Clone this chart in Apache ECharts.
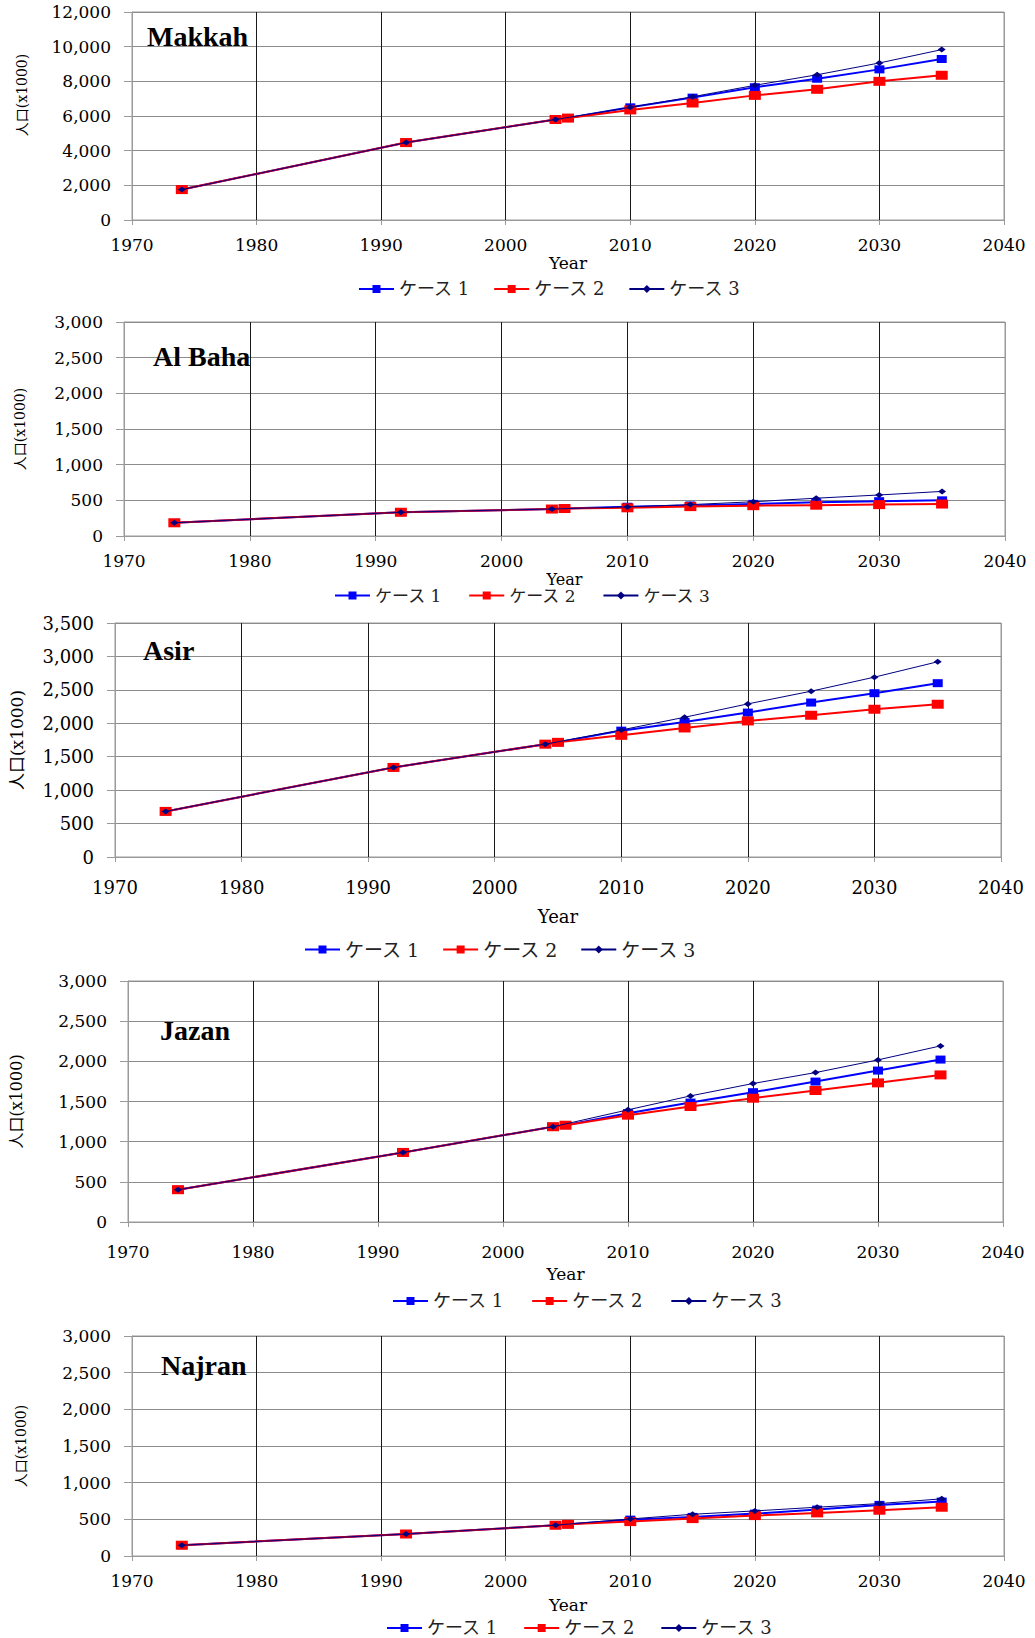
<!DOCTYPE html>
<html>
<head>
<meta charset="utf-8">
<script src="https://cdn.jsdelivr.net/npm/echarts@6/dist/echarts.min.js"></script>
<style>
html,body{margin:0;padding:0;background:#fff;}
#chart{width:1035px;height:1638px;}
</style>
</head>
<body>
<div id="chart"></div>
<script>
// ---------------- DATA ----------------
const regionNames = ['Makkah', 'Al Baha', 'Asir', 'Jazan', 'Najran'];
const seriesNames = ['ケース 1', 'ケース 2', 'ケース 3'];
const xTicks = [1970, 1980, 1990, 2000, 2010, 2020, 2030, 2040];

const yearsCase12 = [1974, 1992, 2004, 2005, 2010, 2015, 2020, 2025, 2030, 2035];
const yearsCase3  = [1974, 1992, 2004, 2010, 2015, 2020, 2025, 2030, 2035];

const makkahCase1 = [1754, 4467, 5798, 5880, 6500, 7060, 7660, 8150, 8690, 9290];
const makkahCase2 = [1754, 4467, 5798, 5880, 6350, 6750, 7190, 7540, 8000, 8350];
const makkahCase3 = [1754, 4467, 5798, 6500, 7110, 7770, 8380, 9060, 9830];

const alBahaCase1 = [185, 333, 378, 385, 410, 428, 450, 472, 488, 500];
const alBahaCase2 = [185, 333, 378, 385, 395, 412, 425, 432, 440, 448];
const alBahaCase3 = [185, 333, 378, 408, 440, 480, 530, 575, 625];

const asirCase1 = [682, 1340, 1688, 1715, 1890, 2020, 2160, 2310, 2450, 2600];
const asirCase2 = [682, 1340, 1688, 1715, 1820, 1930, 2035, 2120, 2210, 2285];
const asirCase3 = [682, 1340, 1688, 1900, 2090, 2290, 2480, 2690, 2920];

const jazanCase1 = [402, 866, 1186, 1205, 1355, 1487, 1616, 1748, 1885, 2022];
const jazanCase2 = [402, 866, 1186, 1205, 1330, 1438, 1541, 1637, 1732, 1831];
const jazanCase3 = [402, 866, 1186, 1396, 1570, 1724, 1860, 2018, 2192];

const najranCase1 = [147, 300, 420, 432, 496, 533, 578, 633, 697, 742];
const najranCase2 = [147, 300, 420, 432, 469, 510, 551, 588, 624, 665];
const najranCase3 = [147, 300, 420, 505, 569, 615, 665, 715, 779];

const yMaxValues = [12000, 3000, 3500, 3000, 3000];
const yIntervals = [2000, 500, 500, 500, 500];

const yAxisName = '人口(x1000)';
const xAxisName = 'Year';

// ---------------- LAYOUT (positions / styles) ----------------
const layouts = [
  {gl:132, gr:1004, gt:12,  gb:220,  fs:17, yNameFs:14, yNameGap:103, yNameShift:21, xNameFs:17, xNameGap:34, xLabMargin:16, lgLeft:358, lgY:290,  lgFs:18, lgGap:23, tLeft:147, tTop:22},
  {gl:124, gr:1005, gt:322, gb:536,  fs:17, yNameFs:14, yNameGap:97,  yNameShift:0,  xNameFs:16, xNameGap:35, xLabMargin:16, lgLeft:334, lgY:597,  lgFs:17, lgGap:26, tLeft:153, tTop:342},
  {gl:115, gr:1001, gt:623, gb:857,  fs:18, yNameFs:17, yNameGap:90,  yNameShift:0,  xNameFs:18, xNameGap:50, xLabMargin:21, lgLeft:304, lgY:950,  lgFs:19, lgGap:22, tLeft:143, tTop:636},
  {gl:119, gr:1003, gt:981, gb:1222, fs:17, yNameFs:16, yNameGap:104, yNameShift:0,  xNameFs:17, xNameGap:43, xLabMargin:21, lgLeft:392, lgY:1302, lgFs:18, lgGap:27, tLeft:160, tTop:1016},
  {gl:132, gr:1004, gt:1336,gb:1556, fs:17, yNameFs:14, yNameGap:104, yNameShift:0,  xNameFs:17, xNameGap:40, xLabMargin:16, lgLeft:386, lgY:1629, lgFs:18, lgGap:25, tLeft:161, tTop:1351}
];

const regionData = [
  [makkahCase1, makkahCase2, makkahCase3],
  [alBahaCase1, alBahaCase2, alBahaCase3],
  [asirCase1, asirCase2, asirCase3],
  [jazanCase1, jazanCase2, jazanCase3],
  [najranCase1, najranCase2, najranCase3]
];

const seriesStyles = [
  {color:'#0000ff', width:2, symbol:'rect', size:[10, 8]},
  {color:'#ff0000', width:2, symbol:'rect', size:[12, 9]},
  {color:'#000080', width:1, symbol:'diamond', size:[8, 6]}
];

const serif = "'DejaVu Serif', 'Noto Sans CJK JP', serif";
const vColors = xTicks.map((t, i) => (i === 0 || i === xTicks.length - 1) ? '#9a9a9a' : '#1a1a1a');

const grid = [], xAxis = [], yAxis = [], series = [], legend = [], title = [];

layouts.forEach((L, i) => {
  grid.push({left:L.gl, top:L.gt, width:L.gr - L.gl, height:L.gb - L.gt,
    show:true, borderColor:'#9a9a9a', borderWidth:1, backgroundColor:'#fff', containLabel:false});
  xAxis.push({
    type:'value', gridIndex:i, min:xTicks[0], max:xTicks[xTicks.length-1], interval:10,
    name:xAxisName, nameLocation:'middle', nameGap:L.xNameGap,
    nameTextStyle:{fontFamily:serif, fontSize:L.xNameFs, color:'#000'},
    axisLine:{show:true, onZero:false, lineStyle:{color:'#9a9a9a', width:1}},
    axisTick:{show:true, inside:false, length:5, lineStyle:{color:'#9a9a9a'}},
    axisLabel:{fontFamily:serif, fontSize:L.fs, color:'#000', margin:L.xLabMargin, formatter:v => String(v)},
    splitLine:{show:true, lineStyle:{color:vColors, width:1}}
  });
  yAxis.push({
    type:'value', gridIndex:i, min:0, max:yMaxValues[i], interval:yIntervals[i],
    name:yAxisName, nameLocation:'middle', nameRotate:90, nameGap:L.yNameGap,
    nameTextStyle:{fontFamily:serif, fontSize:L.yNameFs, color:'#000',
      padding: L.yNameShift ? [0,0,0,2*L.yNameShift] : 0},
    axisLine:{show:true, lineStyle:{color:'#9a9a9a', width:1}},
    axisTick:{show:true, inside:false, length:8, lineStyle:{color:'#9a9a9a'}},
    axisLabel:{fontFamily:serif, fontSize:L.fs, color:'#000', margin:21,
      formatter:v => v.toLocaleString('en-US')},
    splitLine:{show:true, lineStyle:{color:'#8c8c8c', width:1}}
  });
  title.push({text:regionNames[i], left:L.tLeft, top:L.tTop, padding:0,
    textStyle:{fontFamily:"'Liberation Serif', 'Times New Roman', serif", fontWeight:'bold', fontSize:28, color:'#000'}});
  legend.push({data:seriesNames, left:L.lgLeft, top:L.lgY - 10, padding:0, itemWidth:35, itemHeight:10,
    itemGap:L.lgGap, textStyle:{fontFamily:serif, fontSize:L.lgFs, color:'#222'}});
  regionData[i].forEach((vals, k) => {
    const yrs = k === 2 ? yearsCase3 : yearsCase12;
    const st = seriesStyles[k];
    series.push({
      name:seriesNames[k], type:'line', xAxisIndex:i, yAxisIndex:i,
      data:yrs.map((y, j) => [y, vals[j]]),
      symbol:st.symbol, symbolSize:st.size, showAllSymbol:true,
      lineStyle:{color:st.color, width:st.width},
      itemStyle:{color:st.color},
      emphasis:{disabled:true}, z:2 + k
    });
  });
});

const chart = echarts.init(document.getElementById('chart'), null, {renderer:'svg'});
chart.setOption({animation:false, backgroundColor:'#fff', title, legend, grid, xAxis, yAxis, series});
</script>
</body>
</html>
